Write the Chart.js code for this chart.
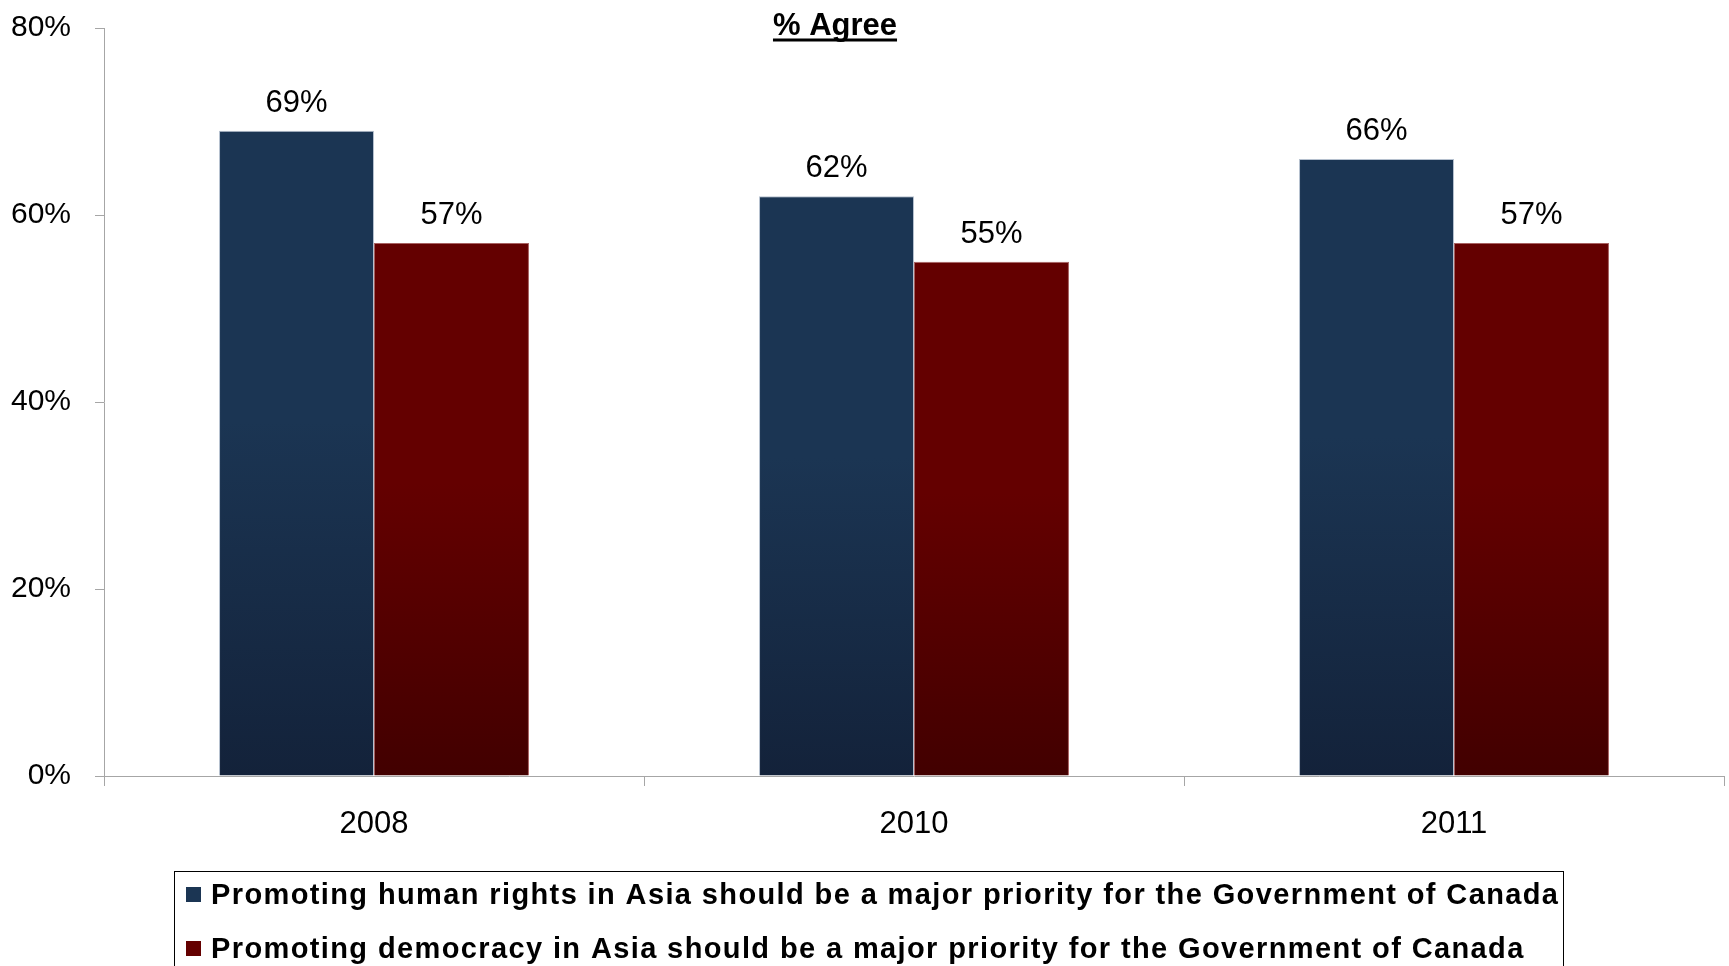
<!DOCTYPE html>
<html>
<head>
<meta charset="utf-8">
<title>% Agree</title>
<script src="https://cdn.jsdelivr.net/npm/chart.js@4/dist/chart.umd.min.js"></script>
<style>
    html, body { margin: 0; padding: 0; background: #ffffff; }
    #grafico { display: block; }
</style>
</head>
<body>
<canvas id="grafico" width="1729" height="966"></canvas>
<script>
// Dados do gráfico
const anos = ['2008', '2010', '2011'];
const direitosHumanos = [69, 62, 66];
const democracia = [57, 55, 57];
const ticksY = [0, 20, 40, 60, 80];
const legendas = [
    'Promoting human rights in Asia should be a major priority for the Government of Canada',
    'Promoting democracy in Asia should be a major priority for the Government of Canada'
];
const titulo = '% Agree';

const fonte = '"Liberation Sans", Arial, sans-serif';
const cinzaEixo = '#a6a6a6';

// Cores (topo e base do degradê de cada barra)
const azul = ['#1b3553', '#13223a'];
const vermelho = ['#640000', '#420000'];

// Degradê vertical do topo da barra até o eixo
function degrade(cores) {
    return function(context) {
        const chart = context.chart;
        if (!chart.chartArea || context.raw === undefined) {
            return cores[0];
        }
        const y = chart.scales.y;
        const topo = y.getPixelForValue(context.raw);
        const base = y.getPixelForValue(0);
        const g = chart.ctx.createLinearGradient(0, topo, 0, base);
        g.addColorStop(0, cores[0]);
        g.addColorStop(0.45, cores[0]);
        g.addColorStop(1, cores[1]);
        return g;
    };
}

// Plugin para escrever os valores em cima das barras
const rotulosValores = {
    id: 'rotulosValores',
    afterDatasetsDraw(chart) {
        const ctx = chart.ctx;
        ctx.save();
        ctx.font = '31px ' + fonte;
        ctx.fillStyle = '#000000';
        ctx.textAlign = 'center';
        ctx.textBaseline = 'alphabetic';
        chart.data.datasets.forEach((ds, i) => {
            chart.getDatasetMeta(i).data.forEach((barra, j) => {
                ctx.fillText(ds.data[j] + '%', barra.x, barra.y - 19);
            });
        });
        ctx.restore();
    }
};

// Plugin para o título sublinhado
const tituloSublinhado = {
    id: 'tituloSublinhado',
    afterDraw(chart) {
        const ctx = chart.ctx;
        ctx.save();
        ctx.font = 'bold 31px ' + fonte;
        ctx.fillStyle = '#000000';
        ctx.textAlign = 'center';
        ctx.textBaseline = 'alphabetic';
        const cx = 835;
        ctx.fillText(titulo, cx, 35);
        const largura = ctx.measureText(titulo).width;
        ctx.fillRect(cx - largura / 2, 38.5, largura, 3);
        ctx.restore();
    }
};

// Plugin para a legenda com borda (letras espaçadas até a largura da caixa)
const legendaCaixa = {
    id: 'legendaCaixa',
    afterDraw(chart) {
        const ctx = chart.ctx;
        const topo = chart.chartArea.bottom + 95;
        const xTexto = 211;
        const larguraLinha = 1347;
        ctx.save();
        ctx.strokeStyle = '#000000';
        ctx.lineWidth = 1;
        ctx.strokeRect(174.5, topo + 0.5, 1389, 200);
        ctx.font = 'bold 29px ' + fonte;
        ctx.textAlign = 'left';
        ctx.textBaseline = 'alphabetic';

        // espaço extra entre letras calculado pela primeira linha
        const linha0 = chart.data.datasets[0].label;
        let soma = 0;
        for (const c of linha0) soma += ctx.measureText(c).width;
        const extra = Math.max(0, (larguraLinha - soma) / (linha0.length - 1));

        chart.data.datasets.forEach((ds, i) => {
            const base = topo + 33 + i * 54;
            const cores = i === 0 ? azul : vermelho;
            ctx.fillStyle = cores[0];
            ctx.fillRect(186, base - 17, 15, 15);
            ctx.fillStyle = '#000000';
            let x = xTexto;
            for (const c of ds.label) {
                ctx.fillText(c, x, base);
                x += ctx.measureText(c).width + extra;
            }
        });
        ctx.restore();
    }
};

const ctx = document.getElementById('grafico').getContext('2d');
const grafico = new Chart(ctx, {
    type: 'bar',
    data: {
        labels: anos,
        datasets: [{
            label: legendas[0],
            data: direitosHumanos,
            backgroundColor: degrade(azul),
            borderColor: 'rgba(150,165,185,0.7)',
            borderWidth: 1
        }, {
            label: legendas[1],
            data: democracia,
            backgroundColor: degrade(vermelho),
            borderColor: 'rgba(130,30,30,0.7)',
            borderWidth: 1
        }]
    },
    options: {
        responsive: false,
        animation: false,
        devicePixelRatio: 1,
        layout: {
            padding: { top: 28, right: 5, bottom: 120, left: 0 }
        },
        datasets: {
            bar: {
                categoryPercentage: 0.574,
                barPercentage: 1
            }
        },
        plugins: {
            legend: { display: false },
            tooltip: { enabled: false },
            title: { display: false }
        },
        scales: {
            x: {
                offset: true,
                grid: {
                    offset: true,
                    drawOnChartArea: false,
                    drawTicks: true,
                    tickLength: 10,
                    color: cinzaEixo
                },
                border: { display: true, color: cinzaEixo, width: 1 },
                ticks: {
                    font: { family: fonte, size: 31 },
                    color: '#000000',
                    padding: 20,
                    maxRotation: 0
                },
                afterFit(scale) {
                    scale.height = 70;
                }
            },
            y: {
                min: 0,
                max: 80,
                afterBuildTicks(scale) {
                    scale.ticks = ticksY.map(v => ({ value: v }));
                },
                grid: {
                    drawOnChartArea: false,
                    drawTicks: true,
                    tickLength: 9,
                    color: cinzaEixo
                },
                border: { display: true, color: cinzaEixo, width: 1 },
                ticks: {
                    font: { family: fonte, size: 30 },
                    color: '#000000',
                    padding: 24,
                    callback: v => v + '%'
                },
                afterFit(scale) {
                    scale.width = 104;
                    // o padding dos rótulos não deve empurrar a área do gráfico
                    scale.paddingTop = 0;
                    scale.paddingBottom = 0;
                }
            }
        }
    },
    plugins: [rotulosValores, tituloSublinhado, legendaCaixa]
});
</script>
</body>
</html>
